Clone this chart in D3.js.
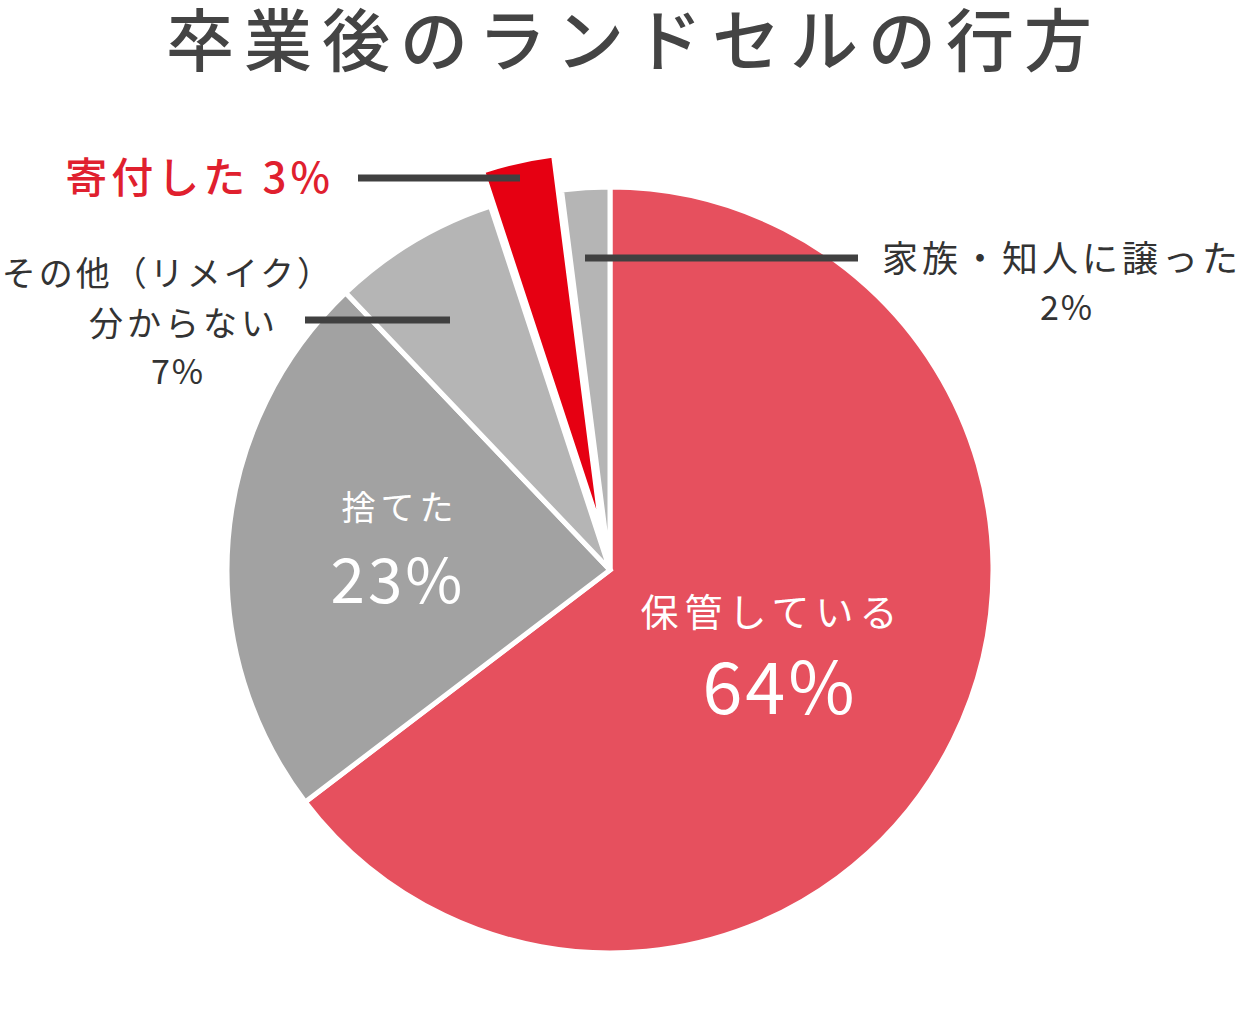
<!DOCTYPE html>
<html><head><meta charset="utf-8">
<script src="https://cdn.jsdelivr.net/npm/d3@7"></script>
<style>body{margin:0;background:#fff}text{font-family:"Noto Sans CJK JP","Noto Sans",sans-serif}</style>
</head><body><svg id="c" width="1246" height="1025"></svg>
<script>
const categories=["保管している","捨てた","その他（リメイク）分からない","寄付した","家族・知人に譲った"];
const values=[64,23,7,3,2];
const colors=["#e6505e","#a2a2a2","#b5b5b5","#e60012","#b5b5b5"];
const svg=d3.select("#c");
function t(x,y,s,size,fill,anchor,w,ls){const e=svg.append("text").attr("x",x).attr("y",y).attr("font-size",size).attr("fill",fill).attr("text-anchor",anchor||"middle").attr("font-weight",w||400).attr("letter-spacing",ls||0).text(s);return e;}
t(634,66,"卒業後のランドセルの行方",68,"#444","middle",500,10);
const cx=610,cy=570,R=383;
const pie=d3.pie().sort(null)(values);
const arc=d3.arc().innerRadius(0).outerRadius(R);
const g=svg.append("g").attr("transform",`translate(${cx},${cy})`);
g.selectAll("path").data(pie).enter().append("path")
 .attr("d",arc).attr("fill",(d,i)=>colors[i]).attr("stroke","#fff").attr("stroke-width",5)
 .attr("transform",(d,i)=>{if(i!==3)return null;const a=(d.startAngle+d.endAngle)/2;return `translate(${Math.sin(a)*36},${-Math.cos(a)*36})`;});
t(772,626,"保管している",38,"#fff","middle",400,6);
t(780,714,values[0]+"%",72,"#fff","middle",400,3);
t(400,520,"捨てた",34,"#fff","middle",400,5);
t(398,603,values[1]+"%",62,"#fff","middle",400,3);
t(334,193,"寄付した "+values[3]+"%",42,"#e0202e","end",500,4);
t(334,286,"その他（リメイク）",34,"#333","end",400,3);
t(279,336,"分からない",34,"#333","end",400,4);
t(178,384,values[2]+"%",34,"#333","middle",400,2);
t(882,272,"家族・知人に譲った",36,"#333","start",400,4);
t(1067,320,values[4]+"%",34,"#333","middle",400,2);
const L=[[358,178,520,178],[305,320,450,320],[585,258,858,258]];
svg.selectAll("line.l").data(L).enter().append("line").attr("x1",d=>d[0]).attr("y1",d=>d[1]).attr("x2",d=>d[2]).attr("y2",d=>d[3]).attr("stroke","#404040").attr("stroke-width",7);
</script></body></html>
